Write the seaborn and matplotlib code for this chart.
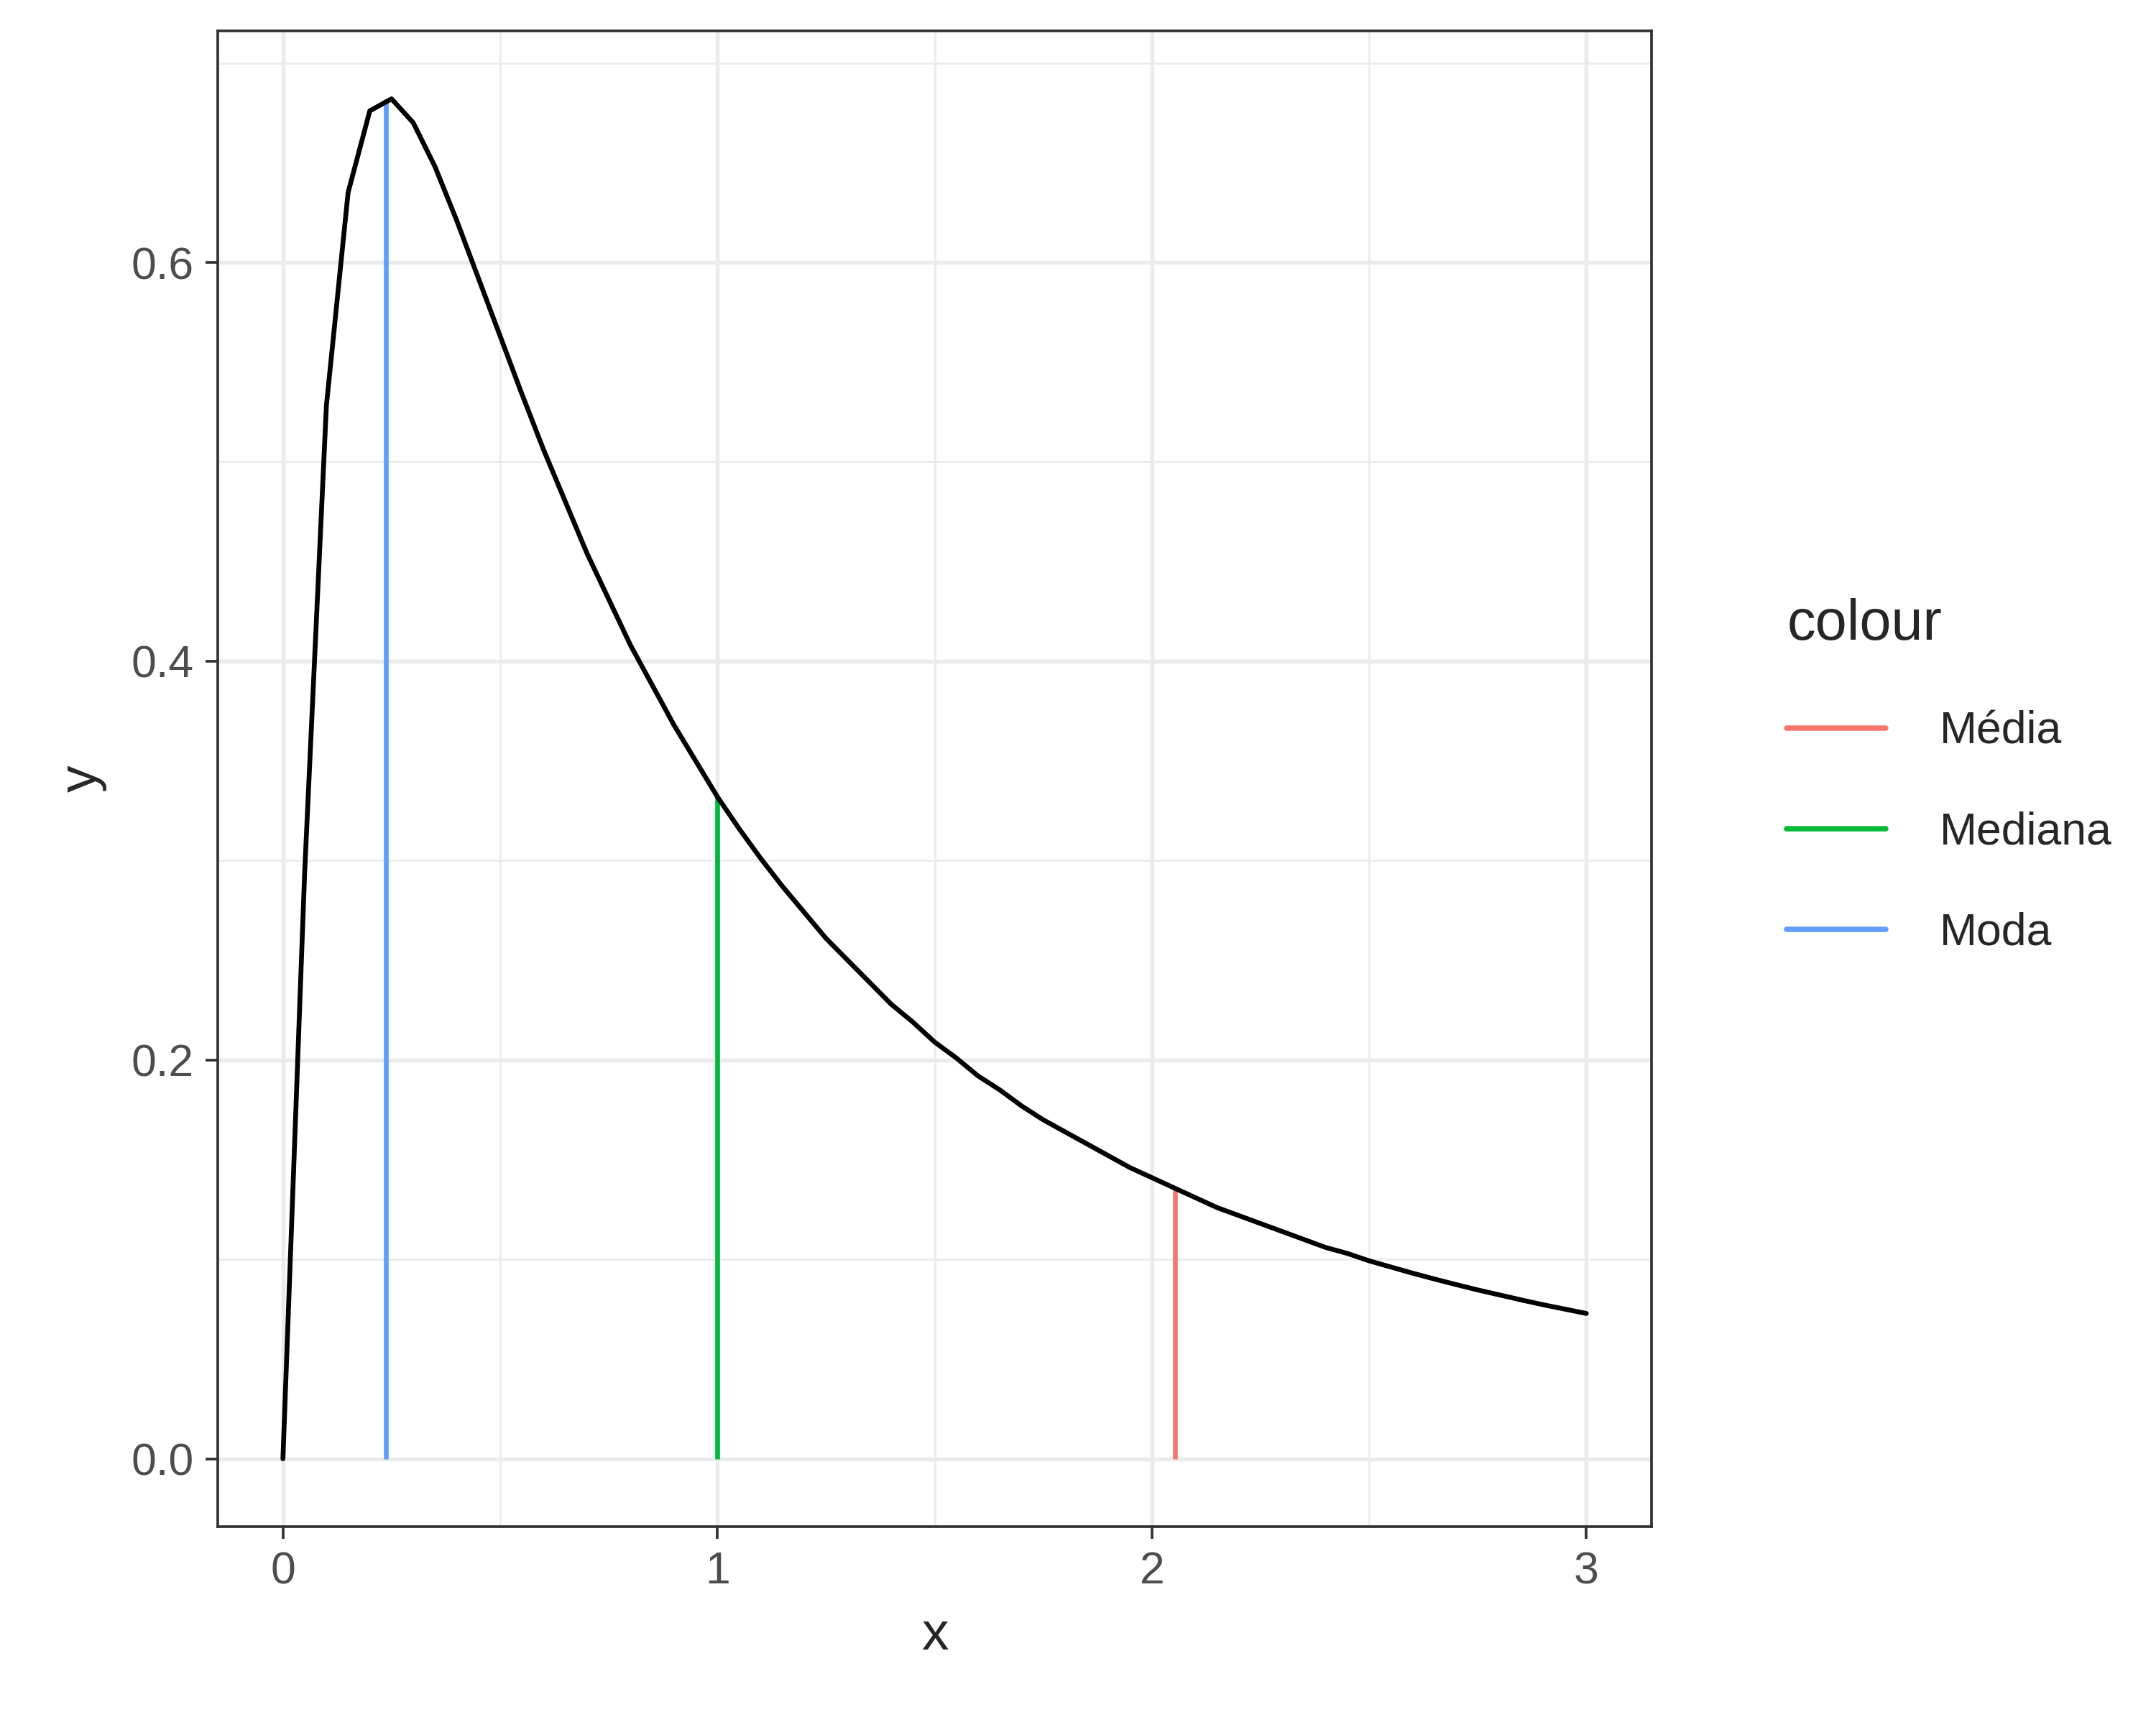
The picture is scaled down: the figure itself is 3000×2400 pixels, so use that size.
import matplotlib
matplotlib.use("Agg")
import matplotlib.pyplot as plt
import seaborn as sns
import pandas as pd
from matplotlib.lines import Line2D

x_vals = [round(0.05 * i, 2) for i in range(61)]
y_vals = [0.0, 0.294, 0.528, 0.635, 0.676, 0.682, 0.670, 0.648, 0.621, 0.592,
          0.563, 0.534, 0.506, 0.480, 0.454, 0.431, 0.408, 0.388, 0.368, 0.350,
          0.332, 0.316, 0.301, 0.287, 0.274, 0.261, 0.250, 0.239, 0.228, 0.219,
          0.209, 0.201, 0.192, 0.185, 0.177, 0.170, 0.164, 0.158, 0.152, 0.146,
          0.141, 0.136, 0.131, 0.126, 0.122, 0.118, 0.114, 0.110, 0.106, 0.103,
          0.0993, 0.0962, 0.0931, 0.0902, 0.0874, 0.0847, 0.0822, 0.0797, 0.0773, 0.0751,
          0.0729]
stat_names = ["Média", "Mediana", "Moda"]
stat_x = [2.054, 1.0, 0.237]
stat_y = [0.136, 0.332, 0.682]
stat_colors = ["#F8766D", "#00BA38", "#619CFF"]

sns.set_theme(style="white")
plt.rcParams['font.family'] = ['Liberation Sans', 'DejaVu Sans']

fig = plt.figure(figsize=(10, 8), dpi=300)
ax = fig.add_axes([0.101, 0.115, 0.665, 0.867])

df = pd.DataFrame({"x": x_vals, "y": y_vals})
sns.lineplot(data=df, x="x", y="y", color="black", lw=1.6, ax=ax, zorder=3)
for n, sx, sy, c in zip(stat_names, stat_x, stat_y, stat_colors):
    ax.vlines(sx, 0, sy, color=c, lw=1.6, zorder=2)

ax.set_xlim(-0.15, 3.15)
ax.set_ylim(-0.034, 0.716)
ax.set_xticks([0, 1, 2, 3])
ax.set_xticklabels(["0", "1", "2", "3"])
ax.set_yticks([0, 0.2, 0.4, 0.6])
ax.set_yticklabels(["0.0", "0.2", "0.4", "0.6"])
ax.set_xticks([0.5, 1.5, 2.5], minor=True)
ax.set_yticks([0.1, 0.3, 0.5, 0.7], minor=True)
ax.grid(True, which="major", color="#EBEBEB", lw=1.3, zorder=0)
ax.grid(True, which="minor", color="#EBEBEB", lw=0.65, zorder=0)
ax.set_axisbelow(True)
for s in ax.spines.values():
    s.set_color("#333333"); s.set_linewidth(0.9)
ax.tick_params(axis="both", which="major", length=4, width=0.9, color="#333333",
               labelsize=15, labelcolor="#4D4D4D", direction="out", bottom=True, left=True, pad=4)
ax.tick_params(which="minor", length=0)
ax.set_xlabel("x", fontsize=18, labelpad=6)
ax.set_ylabel("y", fontsize=18, labelpad=8)

handles = [Line2D([], [], color=c, lw=1.8) for c in stat_colors]
leg = fig.legend(handles, stat_names, title="colour", loc="center left",
                 bbox_to_anchor=(0.81, 0.55), frameon=False, fontsize=15,
                 title_fontsize=19, handlelength=2.2, labelspacing=1.3, handletextpad=1.2)
leg._legend_box.align = "left"

fig.savefig("out.png", dpi=300)
